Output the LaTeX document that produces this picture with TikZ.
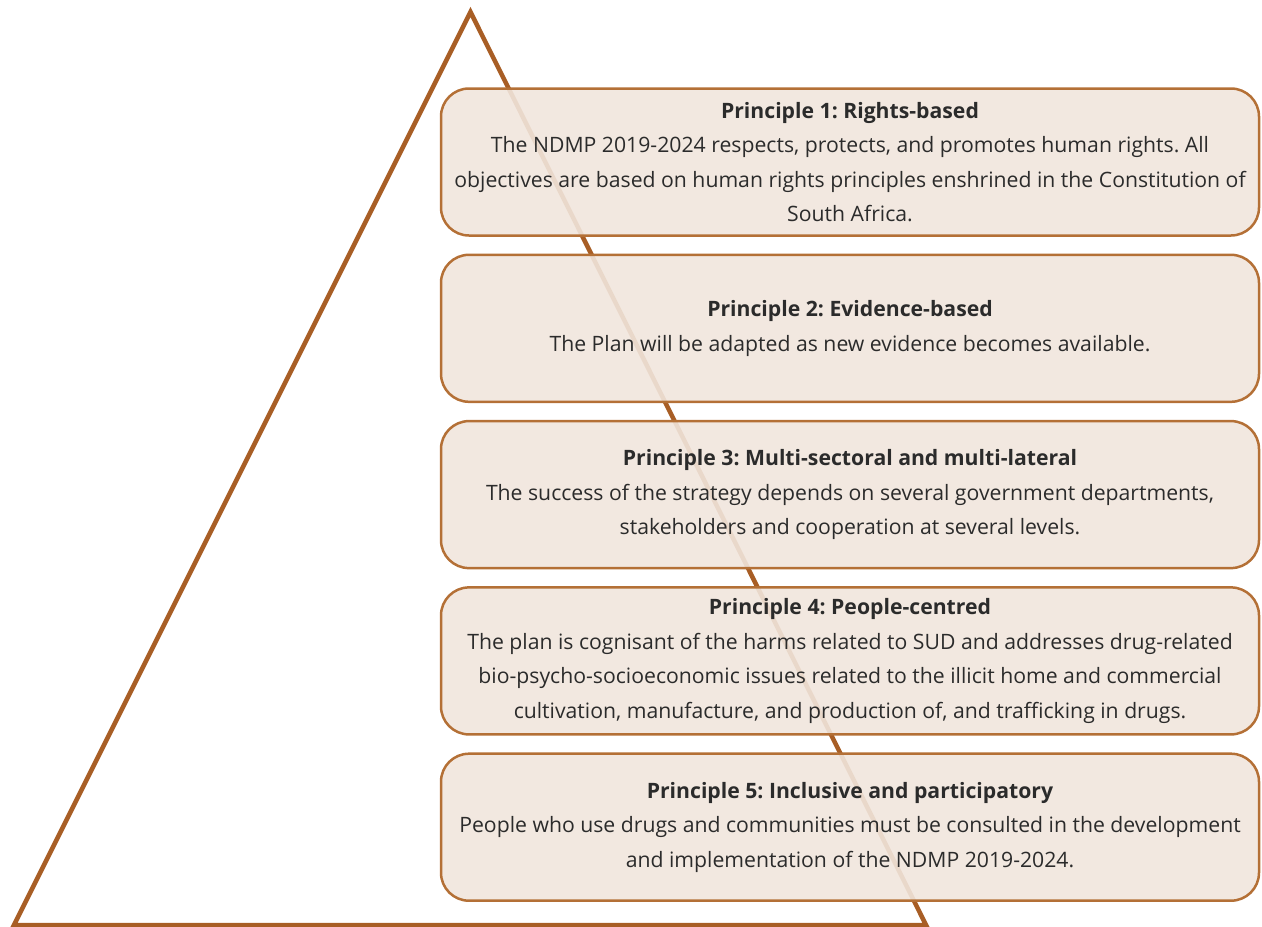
\documentclass[tikz,border=0pt]{standalone}
\usepackage{fontspec}
\setmainfont{Open Sans}
\frenchspacing
\definecolor{pyrbrown}{RGB}{168,94,37}
\definecolor{boxedge}{RGB}{180,112,54}
\definecolor{boxfill}{RGB}{241,230,221}
\definecolor{txtgray}{RGB}{43,43,43}
\tikzset{
	principle/.style={rectangle, rounded corners=28pt, draw=boxedge, line width=2.5pt,
		fill=boxfill, fill opacity=0.9, text opacity=1, text=txtgray,
		minimum width=818pt, minimum height=147pt, align=center,
		font=\fontsize{21.2}{34.6}\selectfont}
}
\begin{document}
\begin{tikzpicture}[x=1pt, y=-1pt]
		\useasboundingbox (0,0) rectangle (1262,927);
		\def\bx{850}
		\def\dy{166.3}
		\coordinate (apex) at (470.5, 12);
		\coordinate (bl) at (14, 925);
		\coordinate (br) at (926, 925);
		\draw[pyrbrown, line width=4.5pt, line join=miter] (apex) -- (bl) -- (br) -- cycle;
		\node[principle] (p1) at (\bx, 162) {\textbf{Principle 1: Rights-based}\\
			The NDMP 2019-2024 respects, protects, and promotes human rights. All\\
			objectives are based on human rights principles enshrined in the Constitution of\\
			South Africa.};
		\node[principle] (p2) at (\bx, 162+\dy) {\textbf{Principle 2: Evidence-based}\\
			The Plan will be adapted as new evidence becomes available.};
		\node[principle] (p3) at (\bx, 162+2*\dy) {\textbf{Principle 3: Multi-sectoral and multi-lateral}\\
			The success of the strategy depends on several government departments,\\
			stakeholders and cooperation at several levels.};
		\node[principle] (p4) at (\bx, 162+3*\dy) {\textbf{Principle 4: People-centred}\\
			The plan is cognisant of the harms related to SUD and addresses drug-related\\
			bio-psycho-socioeconomic issues related to the illicit home and commercial\\
			cultivation, manufacture, and production of, and trafficking in drugs.};
		\node[principle] (p5) at (\bx, 162+4*\dy) {\textbf{Principle 5: Inclusive and participatory}\\
			People who use drugs and communities must be consulted in the development\\
			and implementation of the NDMP 2019-2024.};
	\end{tikzpicture}
\end{document}
